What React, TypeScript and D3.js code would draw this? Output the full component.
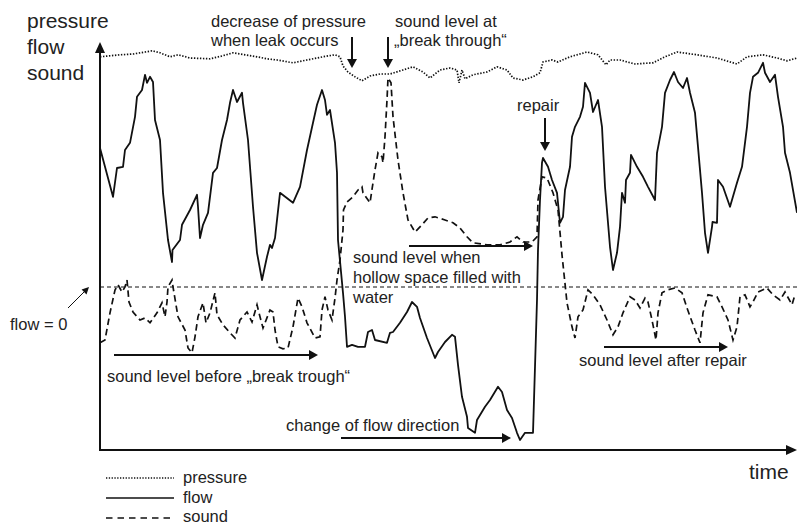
import React from 'react';
import * as d3 from 'd3';

// readings: [time, level] in arbitrary units
const pressureData: [number, number][] = [
  [0, 98.3], [4, 98.8], [6.6, 99], [9, 99.5], [10.4, 99.8], [12, 99.3], [14, 98.3], [15.6, 98.8],
  [18, 98], [22, 97.8], [24.4, 98.5], [26.6, 99.3], [29, 98.8], [31.4, 98.3], [33.4, 97.8], [35.4, 97.5],
  [38.6, 96.8], [41.4, 97.5], [44.6, 98.3], [47, 98.8], [48, 98.3], [48.6, 96], [49.6, 94.5], [51, 93.3],
  [52.4, 92.3], [54, 93.5], [56, 94], [58, 94], [60.6, 95], [62.6, 95.8], [64.6, 94.5], [66, 93],
  [68, 95], [70, 95.5], [71.4, 95], [71.8, 91.8], [72.4, 95], [73, 92.8], [74.6, 93.8], [77.4, 94.5],
  [79.4, 95.8], [81.4, 95], [82.6, 93], [84.6, 92.5], [86.6, 93.3], [88, 94.3], [88.6, 97], [90.4, 97.5],
  [91.6, 97], [94, 98.3], [97.4, 99.5], [99.6, 98.8], [101.2, 96.3], [102, 97.5], [104, 97.5], [107, 96.5],
  [110.6, 96.8], [113, 98.3], [115.4, 99.5], [119.4, 98.8], [123.4, 98], [127.4, 96.5], [129.4, 98.3],
  [132.6, 98.8], [135.4, 98], [137.4, 97.3], [139.4, 98],
];

const flowData: [number, number][] = [
  [0, 75.5], [2.6, 63.3], [3.4, 70.5], [4.6, 70.8], [5, 75], [6, 76.8], [7, 83.3], [7.4, 88.3],
  [8.4, 90], [9, 93.8], [9.4, 91.8], [10, 93.3], [10.6, 92], [11, 82.5], [12, 77.5], [12.6, 64.3],
  [13.6, 52.5], [14.4, 47], [14.5, 50], [16, 52.5], [16.4, 56.3], [18, 60], [19.4, 63.8], [19.6, 60.8],
  [20, 53], [20.6, 56.3], [21.6, 59.3], [22.6, 69.3], [23.4, 70.5], [24.4, 77.5], [25.4, 82.5], [26, 86.8],
  [26.6, 90], [27.4, 87], [28.4, 89.3], [28.6, 86.8], [29.6, 77.5], [30.6, 60.8], [31.4, 49.3], [32.4, 42.5],
  [33.4, 48.3], [34, 51.3], [34.4, 50.5], [35, 53], [36, 64.3], [38.6, 61.8], [40, 65.8], [41.4, 75],
  [42.6, 81.8], [43.4, 86.3], [44.4, 90], [45, 87.5], [45.4, 83.8], [46, 85], [47, 76.8], [47.4, 69.3],
  [47.6, 52.5], [48.6, 39.3], [49, 33.3], [49.4, 25.8], [50.4, 26.3], [51.6, 25.8], [53, 25.8], [53.6, 29.5],
  [54.4, 30], [55, 27.5], [57.4, 26.8], [58, 29.3], [58.6, 29.5], [60, 31.8], [61.4, 34.5], [62.4, 37],
  [63.4, 35.8], [64, 33], [65.4, 28], [67, 23], [67.6, 24.5], [69, 27], [70.4, 28.8], [71, 28.3],
  [71.6, 21.3], [72.4, 13.3], [73.4, 8.3], [73.6, 5.5], [75, 4.3], [75.4, 7.5], [77, 10.8], [78, 12.5],
  [79.6, 15.8], [80.4, 14.5], [81.4, 10], [82.4, 8], [83.4, 4.3], [84, 2.5], [85, 4.3], [86.6, 4.3],
  [87, 20.8], [87.4, 37.5], [87.6, 50], [88, 62.5], [88.4, 71.8], [88.6, 73], [89.6, 70.8], [90.4, 67.5],
  [91.4, 64.3], [92, 56.8], [92.6, 58.3], [93, 65], [94, 70.8], [94.4, 78.3], [95, 80.8], [96, 83.3],
  [96.6, 85.8], [97, 91.8], [98, 89.3], [98.6, 84.5], [99.6, 87.5], [100.4, 80.8], [101, 65.8], [102, 50.8],
  [102.6, 45], [103.4, 49.3], [104, 55.8], [104.4, 64.3], [105, 61.8], [105.2, 67.5], [106, 69.3], [106.2, 73.8],
  [107.4, 70.8], [108.6, 68.3], [109.6, 65.8], [111, 62.5], [111.4, 74.3], [112.4, 80.8], [113, 89.3], [114, 92.5],
  [114.8, 94.5], [115.6, 92], [116.6, 90.5], [117.4, 93], [118, 89.3], [119, 84.3], [119.6, 75.8], [120.4, 64.3],
  [121, 54.3], [121.6, 49.3], [122.4, 55.8], [122.5, 57], [123.4, 56.8], [123.6, 67.5], [124.6, 65.8], [126, 60.8],
  [127.4, 66.8], [128.4, 70.8], [129.4, 80.8], [130, 89.3], [130.6, 93.3], [131.6, 94.3], [132.6, 96.8], [133, 94.3],
  [134, 92], [135, 93.8], [135.6, 88.3], [136.6, 80.8], [137, 74.3], [138, 69.3], [139.4, 59.3],
];

const soundData: [number, number][] = [
  [0, 26.8], [1, 27.5], [2, 34.3], [3, 40], [3.6, 41.3], [4.4, 39.5], [5, 40.8], [5.4, 42.5],
  [5.8, 37], [6.6, 34.5], [8, 32.5], [9, 33], [10, 31.8], [11.4, 34.3], [12.4, 36.8], [13, 33.3],
  [13.4, 37], [13.6, 40.8], [14.4, 42.5], [14.6, 40.8], [15.6, 33.3], [17, 30], [17.6, 25.5], [18.4, 24.3],
  [19, 28.3], [19.6, 33.3], [20.6, 36.8], [21.2, 31.8], [22, 34.3], [23, 39.3], [23.4, 33.8], [24.6, 31.3],
  [26, 29.3], [27, 28], [28, 32.5], [29.4, 34.5], [30.4, 32], [31.4, 36.3], [32, 33.3], [32.6, 30.5],
  [34, 35], [34.6, 34.5], [35, 30], [35.6, 25.8], [36.6, 25.3], [37.6, 25.5], [38.6, 30.8], [39.6, 38],
  [40.4, 35.8], [41.4, 31.8], [43, 28], [44, 28.3], [44.4, 35], [45, 38.3], [45.6, 35], [46.4, 32.5],
  [47, 38], [47.4, 42.5], [48, 47.5], [48.6, 55], [48.7, 60], [49.4, 62], [50.6, 63.3], [51.6, 65],
  [52.4, 65.8], [52.6, 64.3], [54, 61.8], [54.6, 66.8], [55, 70], [55.6, 74.3], [56.4, 73.3], [56.6, 71.8],
  [57, 78.3], [57.4, 87.5], [57.6, 93], [58.2, 91.8], [58.6, 83.3], [59.6, 72.5], [60.6, 64.3], [61.6, 57.5],
  [63, 54.5], [64.4, 56.3], [65.6, 58], [67, 58.3], [69, 57.5], [70.6, 56.8], [72, 55.5], [73.4, 53.3],
  [74.6, 51.8], [77.4, 51.3], [80, 51.3], [82, 52], [83.4, 53.3], [84.6, 52], [86.4, 52], [87.4, 53.3],
  [87.6, 62.5], [88.4, 68.3], [89.4, 68], [90.6, 64.3], [91.6, 60], [92.4, 48.8], [93.4, 36.8], [94.4, 30.8],
  [95, 28], [95.6, 33.3], [96.6, 35], [97.6, 40], [98.6, 38.8], [100, 36.3], [101.4, 32.5], [102.6, 28.8],
  [103.6, 30.8], [104.6, 34.3], [106, 38.3], [107, 37.5], [108, 35.5], [109, 38], [109.6, 37], [110.4, 32.5],
  [111.2, 27.5], [111.6, 34.3], [112.4, 39.3], [113.4, 40], [115, 40.5], [116.4, 39.3], [117.4, 35.5], [119, 30],
  [120, 26.8], [120.6, 34.3], [121.6, 38.8], [123.4, 38.3], [124.4, 35.8], [125.6, 32.5], [126.6, 27.5], [127.4, 30.8],
  [128, 38.3], [129, 38.8], [130, 35.8], [130.6, 37], [131.6, 39.5], [133.4, 40.5], [134.6, 38.8], [136, 37.5],
  [137, 39.5], [138.4, 36.3], [139, 38.8],
];

const flowZero = 40.75;

const axisLabels = ['pressure', 'flow', 'sound'];
const legendItems = [
  { name: 'pressure', dash: '1.3 1.5', width: 1.5 },
  { name: 'flow', dash: '', width: 1.7 },
  { name: 'sound', dash: '6.5 5', width: 1.7 },
];

const W = 797;
const H = 524;
const font = '"Liberation Sans", Arial, Helvetica, sans-serif';
const ink = '#111';

const x = d3.scaleLinear().domain([0, 139.4]).range([100, 797]);
const y = d3.scaleLinear().domain([0, 100]).range([450, 50]);

const line = d3.line<[number, number]>()
  .x(d => x(d[0]))
  .y(d => y(d[1]));

// thick annotation arrow, head at (x2, y2)
function Arrow({ x1, y1, x2, y2, head = 9, half = 5, w = 2 }: any) {
  const ang = Math.atan2(y2 - y1, x2 - x1);
  const bx = x2 - head * Math.cos(ang);
  const by = y2 - head * Math.sin(ang);
  const px = -Math.sin(ang) * half;
  const py = Math.cos(ang) * half;
  return (
    <g>
      <line x1={x1} y1={y1} x2={bx} y2={by} stroke={ink} strokeWidth={w} />
      <path d={`M${x2},${y2}L${bx + px},${by + py}L${bx - px},${by - py}Z`} fill={ink} />
    </g>
  );
}

function Label({ x, y, size = 16.5, children }: any) {
  return (
    <text x={x} y={y} fontSize={size} fontFamily={font} fill="#222">{children}</text>
  );
}

export default function App() {
  return (
    <svg width={W} height={H} style={{ position: 'absolute', left: 0, top: 0, background: '#fff' }}>
      {/* axis titles */}
      {axisLabels.map((t, i) => (
        <Label key={t} x={27} y={28 + i * 26} size={21}>{t}</Label>
      ))}
      <Label x={749} y={479} size={21}>time</Label>

      {/* axes */}
      <line x1={100} y1={451} x2={100} y2={50} stroke={ink} strokeWidth={2} />
      <path d="M100,42L95,53L105,53Z" fill={ink} />
      <line x1={99} y1={450} x2={788} y2={450} stroke={ink} strokeWidth={2} />
      <path d="M797,450L786,445L786,455Z" fill={ink} />

      {/* flow = 0 reference */}
      <line x1={x(0)} x2={x(139.4)} y1={y(flowZero)} y2={y(flowZero)}
        stroke={ink} strokeWidth={1} strokeDasharray="4 3" />

      {/* series */}
      <path d={line(pressureData) || ''} fill="none" stroke={ink} strokeWidth={1.7} strokeDasharray="1.4 1.6" />
      <path d={line(flowData) || ''} fill="none" stroke={ink} strokeWidth={1.8} strokeLinejoin="round" />
      <path d={line(soundData) || ''} fill="none" stroke={ink} strokeWidth={1.7} strokeDasharray="6.5 4" />

      {/* annotations */}
      <Label x={211} y={27}>decrease of pressure</Label>
      <Label x={211} y={46}>when leak occurs</Label>
      <Arrow x1={352} y1={37} x2={352} y2={68} />

      <Label x={395} y={27}>sound level at</Label>
      <Label x={394} y={46}>„break through“</Label>
      <Arrow x1={388} y1={37} x2={388} y2={68} />

      <Label x={517} y={111}>repair</Label>
      <Arrow x1={545} y1={118} x2={545} y2={151} />

      <Arrow x1={409} y1={246} x2={533} y2={246} />
      <Label x={353} y={263}>sound level when</Label>
      <Label x={353} y={283}>hollow space filled with</Label>
      <Label x={353} y={303}>water</Label>

      <Label x={10} y={330}>flow = 0</Label>
      <Arrow x1={68} y1={308} x2={89} y2={287} head={7} half={3.5} w={1} />

      <Arrow x1={114} y1={355} x2={318} y2={355} />
      <Label x={107} y={382}>sound level before „break trough“</Label>

      <Label x={286} y={431}>change of flow direction</Label>
      <Arrow x1={341} y1={438} x2={511} y2={438} />

      <Arrow x1={604} y1={347} x2={728} y2={347} />
      <Label x={579} y={366}>sound level after repair</Label>

      {/* legend */}
      {legendItems.map((d, i) => (
        <g key={d.name}>
          <line x1={106} x2={174} y1={478 + i * 20} y2={478 + i * 20}
            stroke={ink} strokeWidth={d.width} strokeDasharray={d.dash || undefined} />
          <Label x={183} y={483 + i * 19.5}>{d.name}</Label>
        </g>
      ))}
    </svg>
  );
}
